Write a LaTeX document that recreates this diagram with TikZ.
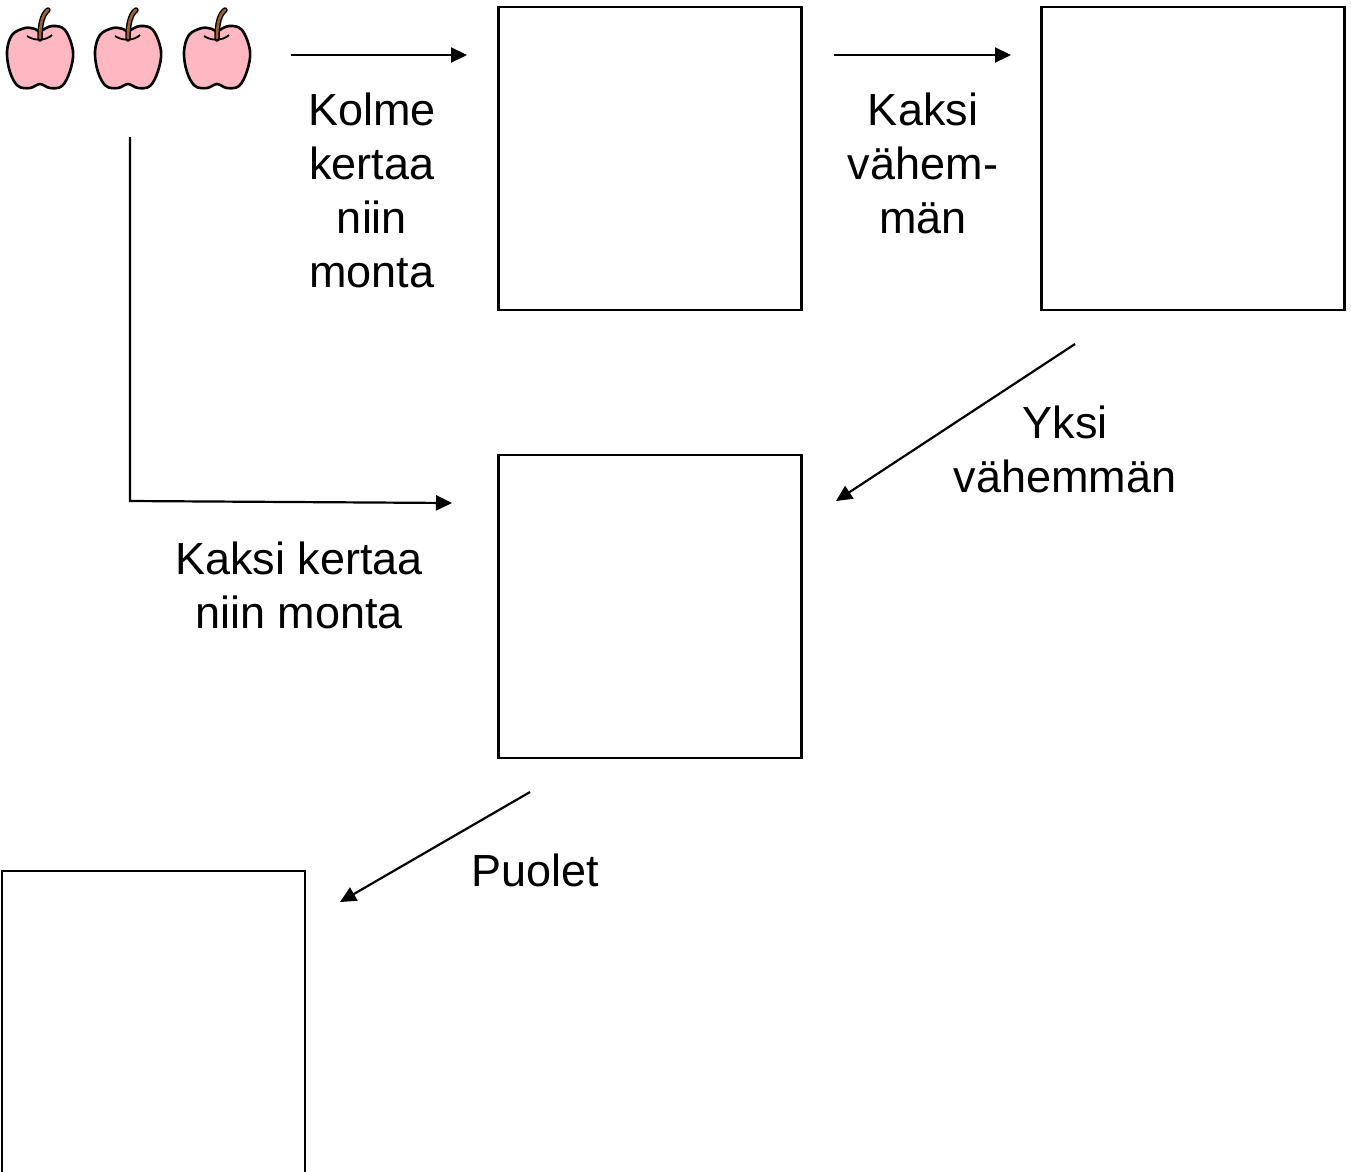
\documentclass[tikz,border=0pt]{standalone}
\usepackage{fontspec}
\setmainfont{Liberation Sans}
\usetikzlibrary{arrows.meta}
\definecolor{applepink}{RGB}{255,184,194}
\definecolor{stembrown}{RGB}{160,100,40}
\tikzset{
  x=1pt, y=-1pt,
  box/.style={draw, line width=2.5pt, minimum width=303pt, minimum height=303pt, inner sep=0pt},
  lbl/.style={font=\fontsize{45}{54}\selectfont, align=center, inner sep=0pt, anchor=base},
  conn/.style={line width=2.2pt, -{Triangle[length=16pt,width=15pt]}},
  apple/.pic={
    \draw[line width=2.6pt, fill=applepink] plot[smooth cycle, tension=0.6] coordinates
      {(0,28) (-10,32) (-22,30) (-30,16) (-33,-4) (-28,-21) (-15,-28) (-5,-27) (0,-25) (12,-30) (25,-26) (33,-5) (30,15) (22,30) (10,32)};
    \draw[line width=1.8pt] (-13,-20) .. controls (-6,-15) and (6,-15) .. (12,-21);
    \draw[line width=5.5pt, line cap=round] (0,-17) .. controls (0,-34) and (3,-42) .. (8,-46);
    \draw[line width=2.6pt, line cap=round, stembrown] (0,-18) .. controls (0,-34) and (3,-42) .. (8,-46);
  }
}
\begin{document}
\begin{tikzpicture}
\useasboundingbox (0,0) rectangle (1351,1171);
\pic (apple1) at (40,56) {apple};
\pic (apple2) at (128,56) {apple};
\pic (apple3) at (217,56) {apple};

\node[box] (box1) at (650,158.5) {};
\node[box] (box2) at (1193,158.5) {};
\node[box] (box3) at (650,606.5) {};
\node[box] (box4) at (153.5,1022.5) {};

\coordinate (s1) at (291,55);
\coordinate (e1) at (467,55);
\coordinate (s2) at (834,55);
\coordinate (e2) at (1011,55);
\coordinate (s3) at (1075,344);
\coordinate (e3) at (836,501);
\coordinate (s4) at (130,137);
\coordinate (k4) at (130,501);
\coordinate (e4) at (452,503);
\coordinate (s5) at (530,792);
\coordinate (e5) at (340,902);

\draw[conn] (s1) -- (e1);
\draw[conn] (s2) -- (e2);
\draw[conn] (s3) -- (e3);
\draw[conn] (s4) -- (k4) -- (e4);
\draw[conn] (s5) -- (e5);

\node[lbl] (l1) at (372,287) {Kolme\\kertaa\\niin\\monta};
\node[lbl] (l2) at (923,233) {Kaksi\\vähem-\\män};
\node[lbl] (l3) at (1065,492) {Yksi\\vähemmän};
\node[lbl] (l4) at (299,628) {Kaksi kertaa\\niin monta};
\node[lbl] (l5) at (535,886) {Puolet};
\end{tikzpicture}
\end{document}
